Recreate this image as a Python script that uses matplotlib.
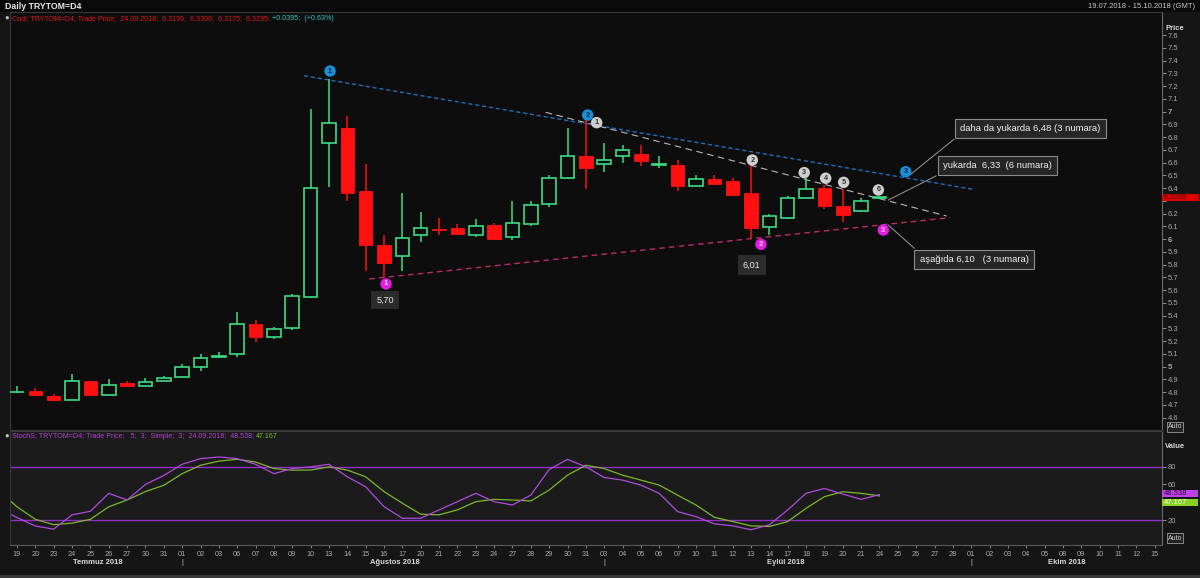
import matplotlib
matplotlib.use('Agg')
import matplotlib.pyplot as plt
from matplotlib.patches import Rectangle
from matplotlib.transforms import blended_transform_factory as btf
import numpy as np

plt.rcParams['font.family'] = ['Liberation Sans', 'DejaVu Sans']

# ---------------- data ----------------
day_labels = ['19', '20', '23', '24', '25', '26', '27', '30', '31',
              '01', '02', '03', '06', '07', '08', '09', '10', '13', '14', '15', '16', '17', '20', '21',
              '22', '23', '24', '27', '28', '29', '30', '31',
              '03', '04', '05', '06', '07', '10', '11', '12', '13', '14', '17', '18', '19', '20', '21',
              '24', '25', '26', '27', '28',
              '01', '02', '03', '04', '05', '08', '09', '10', '11', '12', '15']
month_labels = ['Temmuz 2018', 'Ağustos 2018', 'Eylül 2018', 'Ekim 2018']
month_label_pos = [4.4, 20.6, 41.9, 57.2]
month_starts = [9, 32, 52]

opens = [4.80, 4.81, 4.77, 4.74, 4.89, 4.78, 4.875, 4.85, 4.885, 4.92, 5.00, 5.08, 5.10, 5.335, 5.23, 5.30,
         5.55, 6.755, 6.87, 6.38, 5.955, 5.87, 6.03, 6.08, 6.085, 6.03, 6.11, 6.015, 6.12, 6.275, 6.48, 6.65,
         6.59, 6.65, 6.67, 6.585, 6.58, 6.42, 6.475, 6.455, 6.36, 6.095, 6.165, 6.32, 6.40, 6.257, 6.22, 6.3196]
highs = [4.85, 4.83, 4.785, 4.945, 4.89, 4.90, 4.887, 4.91, 4.93, 5.02, 5.10, 5.115, 5.43, 5.37, 5.31, 5.57,
         7.02, 7.255, 6.97, 6.59, 6.035, 6.36, 6.21, 6.17, 6.12, 6.16, 6.125, 6.30, 6.30, 6.50, 6.87, 6.985,
         6.755, 6.735, 6.735, 6.65, 6.62, 6.50, 6.50, 6.48, 6.58, 6.20, 6.34, 6.48, 6.425, 6.39, 6.32, 6.33]
lows = [4.795, 4.77, 4.73, 4.735, 4.775, 4.775, 4.845, 4.845, 4.885, 4.91, 4.97, 5.075, 5.08, 5.19, 5.22, 5.29,
        5.54, 6.41, 6.30, 5.75, 5.70, 5.75, 5.98, 6.035, 6.04, 6.015, 6.0, 5.99, 6.10, 6.25, 6.475, 6.395,
        6.53, 6.60, 6.575, 6.56, 6.38, 6.42, 6.43, 6.335, 6.01, 6.03, 6.16, 6.32, 6.24, 6.135, 6.215, 6.3175]
closes = [4.805, 4.775, 4.735, 4.89, 4.78, 4.855, 4.845, 4.88, 4.91, 5.00, 5.07, 5.085, 5.335, 5.23, 5.295, 5.555,
          6.40, 6.91, 6.36, 5.955, 5.815, 6.01, 6.09, 6.073, 6.04, 6.10, 6.005, 6.125, 6.27, 6.48, 6.655, 6.555,
          6.625, 6.70, 6.615, 6.59, 6.42, 6.47, 6.435, 6.35, 6.085, 6.185, 6.32, 6.395, 6.257, 6.19, 6.30, 6.3295]

# stochastic (first value belongs to 18.07, before the visible range)
stoch_k = [33, 23, 13.5, 10, 26, 30, 50, 42.6, 60, 70, 82.5, 88.8, 90.7, 88.8, 82.5, 72, 77.7, 79.6, 82.5, 68.5,
           57.4, 35.2, 22.2, 22.2, 31.5, 40.7, 50, 40.7, 37, 48, 76.6, 88, 79.6, 67.7, 64.8, 59.2, 50, 29.6, 24,
           16, 13.7, 9.3, 14.8, 31.5, 50, 55.5, 49.2, 43.3, 48.538]
stoch_d = [53, 35, 21, 15, 16.7, 21, 35, 42.6, 52, 59, 72, 81.4, 86, 88, 85, 77.7, 75.9, 76, 79.6, 76, 68.5, 52,
           39, 26.7, 26, 31.5, 40.7, 43.3, 42.6, 41.5, 53.7, 70.3, 81.4, 77.7, 70.3, 64.8, 59.2, 48, 37, 23.3,
           18.5, 13.7, 13, 18.5, 33.3, 46.3, 51.8, 50, 47.167]

# numbered points: (index, price, label)
blue_pts = [(17.06, 7.319, '1'), (31.10, 6.974, '2'), (48.43, 6.529, '3')]
gray_pts = [(31.59, 6.914, '1'), (40.07, 6.621, '2'), (42.90, 6.522, '3'), (44.07, 6.478, '4'),
            (45.05, 6.446, '5'), (46.94, 6.386, '6')]
mag_pts = [(20.11, 5.649, '1'), (40.54, 5.960, '2'), (47.21, 6.072, '3')]

blue_line = ([15.64, 52.11], [7.282, 6.391])
mag_line = ([19.20, 50.84], [5.688, 6.169])
gray_line = ([28.81, 50.66], [6.995, 6.182])

# ---------------- layout ----------------
W, H = 1200, 578
fig = plt.figure(figsize=(12, 5.78), dpi=100, facecolor='#151515')


def px_axes(x0, y0, x1, y1):
    return fig.add_axes([x0 / W, 1 - y1 / H, (x1 - x0) / W, (y1 - y0) / H])


def ftext(x, y, s, **kw):
    return fig.text(x / W, 1 - y / H, s, **kw)


def frect(x, y, w, h, **kw):
    fig.patches.append(Rectangle((x / W, 1 - (y + h) / H), w / W, h / H, transform=fig.transFigure, **kw))


# header strip
frect(0, 0, W, 12, facecolor='#0a0a0a', edgecolor='none')
ftext(5, 6.5, 'Daily TRYTOM=D4', color='#e8e8e8', fontsize=6.3, fontweight='bold', va='center')
ftext(1195, 6.5, '19.07.2018 - 15.10.2018 (GMT)', color='#c8c8c8', fontsize=5.5, va='center', ha='right')

GREEN = '#3ddc84'
RED = '#ff1010'

ax = px_axes(10, 12, 1162, 430)
ax.set_facecolor('#0d0d0d')
x0, x1 = (10 - 17) / 18.35, (1162 - 17) / 18.35
ax.set_xlim(x0, x1)
ax.set_ylim(6 + (239.2 - 430) / 127.5, 6 + (239.2 - 12) / 127.5)

bw = 0.74
for i, (o, h, l, c) in enumerate(zip(opens, highs, lows, closes)):
    up = c >= o
    col = GREEN if up else RED
    top, bot = max(o, c), min(o, c)
    ax.vlines(i, top, h, color=col, lw=1.1, zorder=3)
    ax.vlines(i, l, bot, color=col, lw=1.1, zorder=3)
    if up:
        ax.add_patch(Rectangle((i - bw / 2, bot), bw, max(top - bot, 0.002), facecolor='none',
                               edgecolor=col, lw=1.2, zorder=3))
    else:
        ax.add_patch(Rectangle((i - bw / 2, bot), bw, max(top - bot, 0.002), facecolor=col,
                               edgecolor=col, lw=0.6, zorder=3))

ax.plot(*blue_line, color='#1f6fb8', lw=1.0, ls=(0, (3, 2)), zorder=2)
ax.plot(*mag_line, color='#c02a6a', lw=1.0, ls=(0, (4, 3)), zorder=2)
ax.plot(*gray_line, color='#b8b8b8', lw=0.8, ls=(0, (6, 4)), zorder=2)


def markers(pts, fc, tc):
    for (xi, yi, s) in pts:
        ax.scatter([xi], [yi], s=68, color=fc, zorder=6, edgecolors='none')
        ax.text(xi, yi, s, color=tc, fontsize=5.3, fontweight='bold', ha='center', va='center', zorder=7)


markers(blue_pts, '#1a8fd6', '#0a2440')
markers(gray_pts, '#cfcfcf', '#333333')
markers(mag_pts, '#e21ce2', '#f5d8f5')

# leader lines
for (xs, ys) in [([48.66, 51.06], [6.504, 6.784]), ([47.48, 50.08], [6.307, 6.496]),
                 ([47.48, 48.90], [6.111, 5.929])]:
    ax.plot(xs, ys, color='#9a9a9a', lw=0.7, zorder=4)

ax.text(20.05, 5.523, '5,70', color='#e8e8e8', fontsize=6.5, ha='center', va='center', zorder=8,
        bbox=dict(boxstyle='square,pad=0.55', fc='#2c2c2c', ec='none'))
ax.text(40.04, 5.798, '6,01', color='#e8e8e8', fontsize=6.5, ha='center', va='center', zorder=8,
        bbox=dict(boxstyle='square,pad=0.6', fc='#2c2c2c', ec='none'))
box_kw = dict(boxstyle='square,pad=0.55', fc='#262626', ec='#8c8c8c', lw=0.8)
ax.text(55.22, 6.866, 'daha da yukarda 6,48 (3 numara)', color='#f0f0f0', fontsize=6.8, ha='center',
        va='center', zorder=8, bbox=box_kw)
ax.text(53.42, 6.578, 'yukarda  6,33  (6 numara)', color='#f0f0f0', fontsize=6.8, ha='center',
        va='center', zorder=8, bbox=box_kw)
ax.text(52.16, 5.843, 'aşağıda 6,10   (3 numara)', color='#f0f0f0', fontsize=6.8, ha='center',
        va='center', zorder=8, bbox=box_kw)

# price axis
ax.yaxis.tick_right()
pt = np.round(np.arange(4.6, 7.61, 0.1), 1)
ax.set_yticks(pt)
ax.set_yticklabels([('%d' % v if abs(v - round(v)) < 1e-6 else ('' if abs(v - 6.3) < 1e-6 else '%.1f' % v))
                    for v in pt])
for lab, v in zip(ax.get_yticklabels(), pt):
    if abs(v - round(v)) < 1e-6:
        lab.set_fontweight('bold')
        lab.set_color('#e0e0e0')
ax.tick_params(axis='y', direction='out', length=3, color='#8a8a8a', labelsize=5.5, labelcolor='#a8a8a8', pad=1)
ax.set_xticks([])
for s in ax.spines.values():
    s.set_color('#3a3a3a')
    s.set_linewidth(0.8)
ax.spines['right'].set_color('#6a6a6a')

# legend line
ftext(7, 18.5, '\u25cf', color='#bdbdbd', fontsize=5.5, va='center', ha='center')
t1 = ftext(12, 18.5, 'Cndl; TRYTOM=D4; Trade Price;  24.09.2018;  6.3196;  6.3300;  6.3175;  6.3295; ',
           color='#e01818', fontsize=5.1, va='center')
ax.annotate('+0.0395;  (+0.63%)', xy=(1, 0), xycoords=t1, va='bottom', ha='left', color='#30c8c8',
            fontsize=5.1, annotation_clip=False)

# current price box
tr = btf(fig.transFigure, ax.transData)
ax.add_patch(Rectangle((1162 / W, 6.3295 - 3.6 / 127.5), 37 / W, 7.2 / 127.5, transform=tr, facecolor='#e00000',
                       edgecolor='none', clip_on=False, zorder=10))
ax.text(1164 / W, 6.3295, '6.3295', transform=tr, color='#4a0000', fontsize=5.5, va='center', ha='left',
        zorder=11, clip_on=False)
ftext(1175, 28, 'Price', color='#d8d8d8', fontsize=5.5, fontweight='bold', ha='center', va='center')
ftext(1175, 427, 'Auto', color='#d0d0d0', fontsize=5, ha='center', va='center',
      bbox=dict(boxstyle='square,pad=0.15', fc='#222222', ec='#9a9a9a', lw=0.6))

# ---------------- stochastic panel ----------------
ax2 = px_axes(10, 431, 1162, 545)
ax2.set_facecolor('#1b1b1b')
ax2.set_xlim(x0, x1)
ax2.set_ylim(20 - (545 - 520.2) / 0.895, 20 + (520.2 - 431) / 0.895)
xs = np.arange(-1, len(stoch_k) - 1)
ax2.axhline(80, color='#8e2ec4', lw=1.0)
ax2.axhline(20, color='#8e2ec4', lw=1.0)
ax2.plot(xs, stoch_d, color='#7cb82a', lw=0.9)
ax2.plot(xs, stoch_k, color='#b04ae0', lw=0.9)
ax2.yaxis.tick_right()
ax2.set_yticks([20, 40, 60, 80])
ax2.set_yticklabels(['20', '', '60', '80'])
ax2.tick_params(axis='y', direction='out', length=3, color='#8a8a8a', labelsize=5.5, labelcolor='#a8a8a8', pad=1)
ax2.set_xticks(range(len(day_labels)))
ax2.set_xticklabels(day_labels)
ax2.tick_params(axis='x', direction='out', length=2, color='#7a7a7a', labelsize=5.3, labelcolor='#a8a8a8', pad=2)
for s in ax2.spines.values():
    s.set_color('#3a3a3a')
    s.set_linewidth(0.8)
ax2.spines['right'].set_color('#6a6a6a')
ax2.spines['bottom'].set_color('#5a5a5a')

tr2 = btf(fig.transFigure, ax2.transData)
for (yc, txt, fc, tc) in [(49.6, '48.538', '#c040e8', '#2a0a3a'), (40.1, '47.167', '#8ad21e', '#f0fff0')]:
    ax2.add_patch(Rectangle((1162 / W, yc - 3.5 / 0.895), 36 / W, 7 / 0.895, transform=tr2, facecolor=fc,
                            edgecolor='none', clip_on=False, zorder=10))
    ax2.text(1164 / W, yc, txt, transform=tr2, color=tc, fontsize=5.5, va='center', ha='left', zorder=11,
             clip_on=False)

ftext(7, 436, '\u25cf', color='#bdbdbd', fontsize=5.5, va='center', ha='center')
t2 = ftext(12, 436, 'StochS; TRYTOM=D4; Trade Price;   5;  3;  Simple;  3;  24.09.2018;  48.538; ',
           color='#b040d0', fontsize=5.1, va='center')
ax2.annotate('47.167', xy=(1, 0), xycoords=t2, va='bottom', ha='left', color='#7cc020', fontsize=5.1,
             annotation_clip=False)
ftext(1175, 447, 'Value', color='#d8d8d8', fontsize=5.5, fontweight='bold', ha='center', va='center')
ftext(1175, 538, 'Auto', color='#d0d0d0', fontsize=5, ha='center', va='center',
      bbox=dict(boxstyle='square,pad=0.15', fc='#222222', ec='#9a9a9a', lw=0.6))

# month labels
for lab, pos in zip(month_labels, month_label_pos):
    ftext(17 + 18.35 * pos, 562, lab, color='#d8d8d8', fontsize=5.5, fontweight='bold', ha='center', va='center')
for ms in month_starts:
    ftext(17 + 18.35 * ms, 562, '|', color='#c8c8c8', fontsize=5.5, ha='center', va='center')

frect(0, 575, W, 3, facecolor='#3a3a3a', edgecolor='none')

fig.savefig('out.png', dpi=100, facecolor=fig.get_facecolor())
